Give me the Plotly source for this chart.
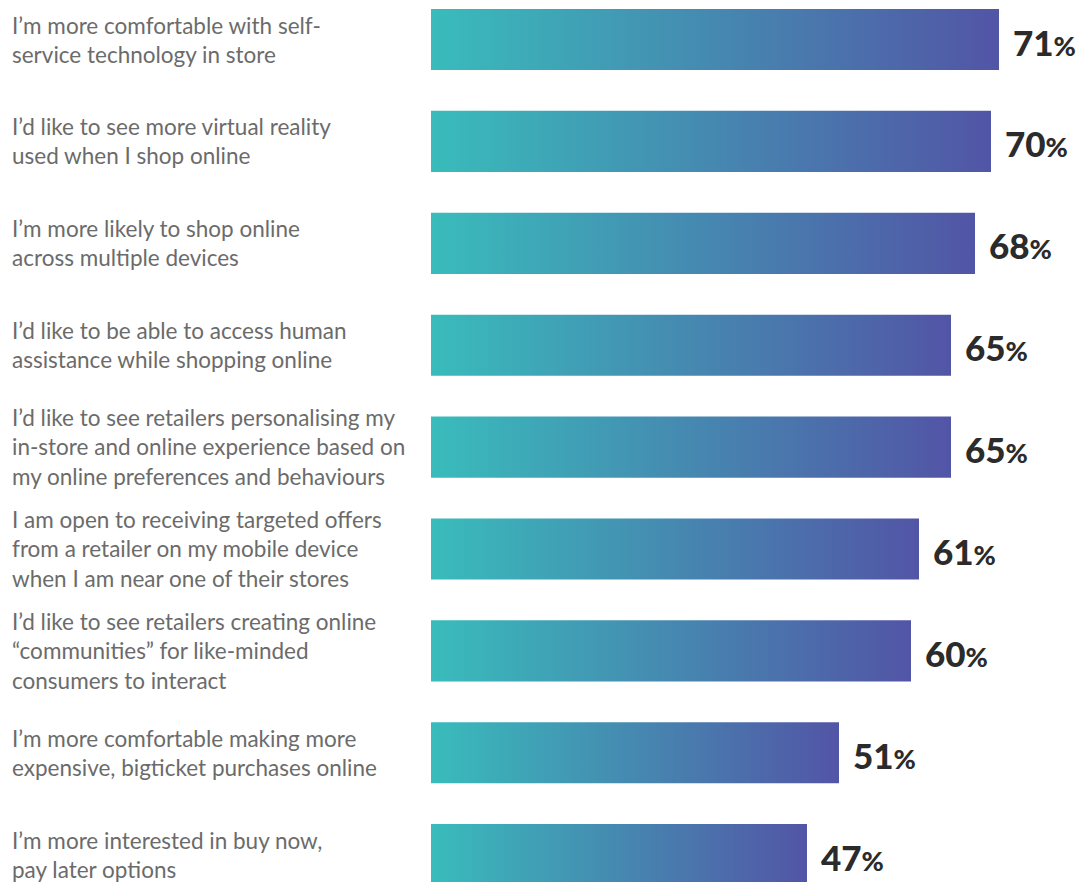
import plotly.graph_objects as go

# Survey statements (top to bottom) and share of respondents agreeing (%)
statements = [
    "I’m more comfortable with self-<br>service technology in store",
    "I’d like to see more virtual reality<br>used when I shop online",
    "I’m more likely to shop online<br>across multiple devices",
    "I’d like to be able to access human<br>assistance while shopping online",
    "I’d like to see retailers personalising my<br>in-store and online experience based on<br>my online preferences and behaviours",
    "I am open to receiving targeted offers<br>from a retailer on my mobile device<br>when I am near one of their stores",
    "I’d like to see retailers creating online<br>“communities” for like-minded<br>consumers to interact",
    "I’m more comfortable making more<br>expensive, bigticket purchases online",
    "I’m more interested in buy now,<br>pay later options",
]
values = [71, 70, 68, 65, 65, 61, 60, 51, 47]

TEAL = "#39bcbb"
PURPLE = "#5255a6"
BAR_HALF = 0.3  # half of the bar thickness, in category units

fig = go.Figure()

# Each bar is a filled rectangle with its own left-to-right gradient
for i, v in enumerate(values):
    fig.add_trace(go.Scatter(
        x=[0, v, v, 0, 0],
        y=[i - BAR_HALF, i - BAR_HALF, i + BAR_HALF, i + BAR_HALF, i - BAR_HALF],
        mode="lines",
        line=dict(width=0),
        fill="toself",
        fillgradient=dict(type="horizontal", colorscale=[[0, TEAL], [1, PURPLE]],
                          start=0, stop=v),
        hoverinfo="skip",
        showlegend=False,
    ))

# Statement labels on the left, value labels at the bar ends
for i, (s, v) in enumerate(zip(statements, values)):
    fig.add_annotation(
        xref="paper", yref="y", x=10 / 1083, y=i,
        xanchor="left", yanchor="middle", align="left",
        text=s, showarrow=False,
        font=dict(family="Lato", size=22.5, color="#6b6b6b"),
    )
    fig.add_annotation(
        xref="x", yref="y", x=v, y=i,
        xanchor="left", yanchor="middle", xshift=12, yshift=-2,
        text=f"{v}<span style='font-size:27px'>%</span>",
        showarrow=False,
        font=dict(family="Lato", size=35, color="#2b2b2b", weight=900),
    )

fig.update_layout(
    width=1083, height=882,
    margin=dict(l=0, r=0, t=0, b=0),
    paper_bgcolor="white", plot_bgcolor="white",
    xaxis=dict(domain=[431 / 1083, 1], range=[0, 81.5], visible=False, fixedrange=True),
    yaxis=dict(range=[8.268, -0.388], visible=False, fixedrange=True),
)

fig.write_html("out.html")
